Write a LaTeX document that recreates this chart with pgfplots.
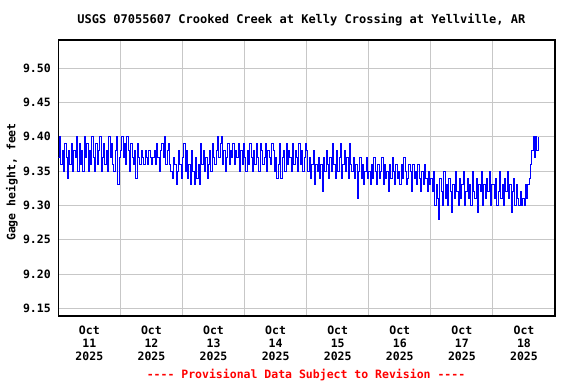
\documentclass[border=0pt]{standalone}
\usepackage{fontspec}
\setmainfont{DejaVu Sans Mono}[Ligatures=TeXOff]
\usepackage{pgfplots}
\pgfplotsset{compat=1.18}
\begin{document}
\begin{tikzpicture}
\begin{axis}[
  scale only axis, width=496.7pt, height=276pt,
  xmin=0, xmax=384, ymin=9.139, ymax=9.541,
  xtick={24,72,120,168,216,264,312,360},
  xticklabels={{Oct\\11\\2025},{Oct\\12\\2025},{Oct\\13\\2025},{Oct\\14\\2025},{Oct\\15\\2025},{Oct\\16\\2025},{Oct\\17\\2025},{Oct\\18\\2025}},
  minor xtick={48,96,144,192,240,288,336},
  ytick={9.15,9.20,9.25,9.30,9.35,9.40,9.45,9.50},
  yticklabel style={xshift=-4pt, /pgf/number format/.cd, fixed, fixed zerofill, precision=2, assume math mode=true},
  tick label style={font=\bfseries\fontsize{11.5}{13}\selectfont},
  xticklabel style={align=center, yshift=-6pt},
  xminorgrids, ymajorgrids, xmajorgrids=false,
  major tick length=0pt, minor tick length=0pt,
  grid style={draw=black!22, line width=0.9pt},
  minor grid style={draw=black!22, line width=0.9pt},
  axis line style={line width=1.1pt},
]
\addplot[color=blue, line width=0.9pt, mark=none, const plot] table[x expr=\coordindex, y index=0, header=false, row sep=\\] {
9.37\\ 9.40\\ 9.36\\ 9.38\\ 9.35\\ 9.39\\ 9.37\\ 9.34\\ 9.38\\ 9.36\\ 9.39\\ 9.35\\
9.38\\ 9.37\\ 9.40\\ 9.35\\ 9.39\\ 9.36\\ 9.38\\ 9.35\\ 9.40\\ 9.37\\ 9.39\\ 9.35\\
9.38\\ 9.36\\ 9.40\\ 9.37\\ 9.35\\ 9.39\\ 9.36\\ 9.38\\ 9.40\\ 9.35\\ 9.37\\ 9.39\\
9.36\\ 9.38\\ 9.35\\ 9.40\\ 9.37\\ 9.39\\ 9.36\\ 9.35\\ 9.38\\ 9.40\\ 9.33\\ 9.37\\
9.38\\ 9.40\\ 9.37\\ 9.39\\ 9.36\\ 9.40\\ 9.38\\ 9.35\\ 9.39\\ 9.37\\ 9.36\\ 9.38\\
9.34\\ 9.39\\ 9.37\\ 9.36\\ 9.38\\ 9.37\\ 9.36\\ 9.38\\ 9.37\\ 9.36\\ 9.38\\ 9.37\\
9.36\\ 9.37\\ 9.38\\ 9.36\\ 9.39\\ 9.37\\ 9.35\\ 9.38\\ 9.39\\ 9.37\\ 9.40\\ 9.36\\
9.38\\ 9.39\\ 9.36\\ 9.35\\ 9.34\\ 9.37\\ 9.36\\ 9.33\\ 9.35\\ 9.38\\ 9.36\\ 9.34\\
9.37\\ 9.39\\ 9.35\\ 9.38\\ 9.34\\ 9.36\\ 9.33\\ 9.38\\ 9.35\\ 9.33\\ 9.37\\ 9.34\\
9.36\\ 9.33\\ 9.39\\ 9.36\\ 9.38\\ 9.35\\ 9.37\\ 9.34\\ 9.36\\ 9.38\\ 9.35\\ 9.39\\
9.37\\ 9.36\\ 9.38\\ 9.40\\ 9.37\\ 9.39\\ 9.40\\ 9.36\\ 9.38\\ 9.35\\ 9.37\\ 9.39\\
9.36\\ 9.38\\ 9.37\\ 9.39\\ 9.36\\ 9.38\\ 9.37\\ 9.39\\ 9.35\\ 9.38\\ 9.36\\ 9.39\\
9.37\\ 9.35\\ 9.38\\ 9.36\\ 9.39\\ 9.37\\ 9.35\\ 9.38\\ 9.36\\ 9.39\\ 9.37\\ 9.35\\
9.39\\ 9.38\\ 9.36\\ 9.37\\ 9.39\\ 9.35\\ 9.38\\ 9.37\\ 9.36\\ 9.39\\ 9.38\\ 9.35\\
9.37\\ 9.34\\ 9.36\\ 9.39\\ 9.34\\ 9.37\\ 9.38\\ 9.35\\ 9.39\\ 9.36\\ 9.38\\ 9.37\\
9.35\\ 9.39\\ 9.36\\ 9.38\\ 9.37\\ 9.35\\ 9.39\\ 9.36\\ 9.38\\ 9.35\\ 9.37\\ 9.39\\
9.38\\ 9.35\\ 9.37\\ 9.34\\ 9.36\\ 9.38\\ 9.33\\ 9.36\\ 9.35\\ 9.37\\ 9.34\\ 9.36\\
9.32\\ 9.37\\ 9.35\\ 9.38\\ 9.36\\ 9.34\\ 9.37\\ 9.35\\ 9.39\\ 9.36\\ 9.34\\ 9.38\\
9.35\\ 9.37\\ 9.39\\ 9.34\\ 9.36\\ 9.38\\ 9.35\\ 9.37\\ 9.34\\ 9.39\\ 9.36\\ 9.35\\
9.37\\ 9.34\\ 9.36\\ 9.31\\ 9.35\\ 9.37\\ 9.34\\ 9.36\\ 9.33\\ 9.35\\ 9.37\\ 9.34\\
9.35\\ 9.33\\ 9.36\\ 9.34\\ 9.37\\ 9.35\\ 9.33\\ 9.36\\ 9.34\\ 9.35\\ 9.37\\ 9.33\\
9.36\\ 9.34\\ 9.35\\ 9.32\\ 9.36\\ 9.34\\ 9.37\\ 9.35\\ 9.33\\ 9.36\\ 9.34\\ 9.35\\
9.33\\ 9.36\\ 9.34\\ 9.37\\ 9.35\\ 9.33\\ 9.34\\ 9.36\\ 9.35\\ 9.32\\ 9.36\\ 9.34\\
9.35\\ 9.33\\ 9.36\\ 9.34\\ 9.32\\ 9.35\\ 9.33\\ 9.36\\ 9.34\\ 9.32\\ 9.35\\ 9.33\\
9.34\\ 9.32\\ 9.35\\ 9.30\\ 9.33\\ 9.31\\ 9.28\\ 9.34\\ 9.32\\ 9.30\\ 9.35\\ 9.31\\
9.33\\ 9.30\\ 9.34\\ 9.32\\ 9.29\\ 9.33\\ 9.31\\ 9.35\\ 9.32\\ 9.30\\ 9.34\\ 9.31\\
9.33\\ 9.35\\ 9.30\\ 9.32\\ 9.34\\ 9.31\\ 9.33\\ 9.30\\ 9.35\\ 9.32\\ 9.31\\ 9.34\\
9.29\\ 9.33\\ 9.32\\ 9.35\\ 9.30\\ 9.33\\ 9.31\\ 9.34\\ 9.32\\ 9.35\\ 9.30\\ 9.33\\
9.33\\ 9.31\\ 9.34\\ 9.30\\ 9.32\\ 9.35\\ 9.31\\ 9.33\\ 9.30\\ 9.34\\ 9.32\\ 9.35\\
9.31\\ 9.33\\ 9.29\\ 9.32\\ 9.34\\ 9.30\\ 9.33\\ 9.31\\ 9.30\\ 9.32\\ 9.30\\ 9.31\\
9.30\\ 9.33\\ 9.31\\ 9.33\\ 9.34\\ 9.36\\ 9.38\\ 9.40\\ 9.37\\ 9.40\\ 9.38\\ 9.40\\
};
\end{axis}
\node[font=\bfseries\fontsize{12}{14}\selectfont] at (243pt,296pt) {USGS 07055607 Crooked Creek at Kelly Crossing at Yellville, AR};
\node[rotate=90, font=\bfseries\fontsize{11.5}{13}\selectfont] at (-46.3pt,134pt) {Gage height, feet};
\node[text=red, font=\bfseries\fontsize{11.5}{13}\selectfont] at (247.7pt,-59pt) {---- Provisional Data Subject to Revision ----};
\pgfresetboundingbox
\path[use as bounding box] (-58.3pt,-68pt) rectangle (517.7pt,316pt);
\end{tikzpicture}
\end{document}
